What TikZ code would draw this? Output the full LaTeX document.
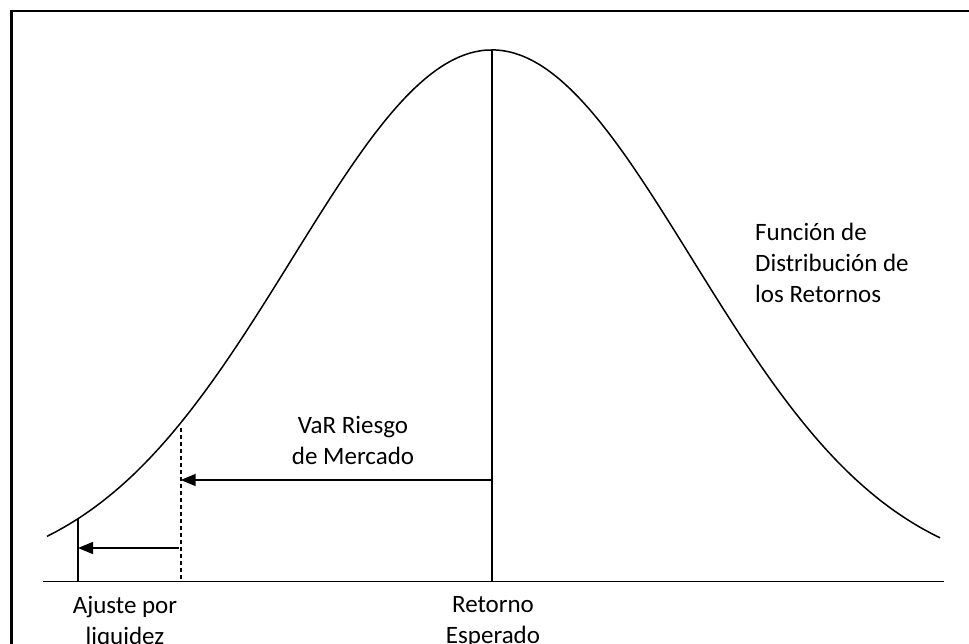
\documentclass[tikz,border=0pt]{standalone}
\usepackage{fontspec}
\setmainfont{Carlito}
\usetikzlibrary{arrows.meta}
\tikzset{
  lbl/.style={font=\fontsize{25}{31}\selectfont, inner sep=0pt, align=center},
  lblleft/.style={font=\fontsize{25}{30.7}\selectfont, inner sep=0pt, align=left},
  ln/.style={line width=1.5pt, black},
  arr/.style={line width=1.5pt, -{Triangle[length=15pt,width=12pt]}},
  dashline/.style={line width=1.7pt, dash pattern=on 4pt off 3pt}
}
\begin{document}
\begin{tikzpicture}[x=1pt,y=-1pt]
\useasboundingbox (0,0) rectangle (969,643);
\begin{scope}
\clip (0,0) rectangle (969,643);
% frame
\draw[line width=2.2pt] (11.5,11) rectangle (990,670);
% axis
\coordinate (axL) at (43,581.5);
\coordinate (axR) at (944,581.5);
\draw[ln] (axL) -- (axR);
% gaussian curve
\draw[ln, domain=47:940, samples=200, smooth] plot (\x, {581-531*exp(-0.5*((\x-492)/200)^2)});
% verticals
\coordinate (peak) at (492,50);
\coordinate (mid) at (492,581.5);
\draw[ln] (peak) -- (mid);
\coordinate (ltop) at (78,{581-531*exp(-0.5*((78-492)/200)^2)});
\coordinate (lbot) at (78,581.5);
\draw[ln] (ltop) -- (lbot);
\coordinate (dtop) at (180.7,428);
\coordinate (dbot) at (180.7,581.5);
\draw[dashline] (dtop) -- (dbot);
% arrows
\coordinate (a1s) at (492,480);
\coordinate (a1e) at (180.7,480);
\draw[arr] (a1s) -- (a1e);
\coordinate (a2s) at (179,548);
\coordinate (a2e) at (78,548);
\draw[arr] (a2s) -- (a2e);
% labels (anchor base = baseline of last line)
\node[lbl, anchor=base] (var) at (353,464) {VaR Riesgo\\de Mercado};
\node[lbl, anchor=base] (aj) at (125,644) {Ajuste por\\liquidez};
\node[lbl, anchor=base] (ret) at (493,643) {Retorno\\Esperado};
\node[lblleft, anchor=base west] (fun) at (755,302) {Función de\\Distribución de\\los Retornos};
\end{scope}
\end{tikzpicture}
\end{document}
